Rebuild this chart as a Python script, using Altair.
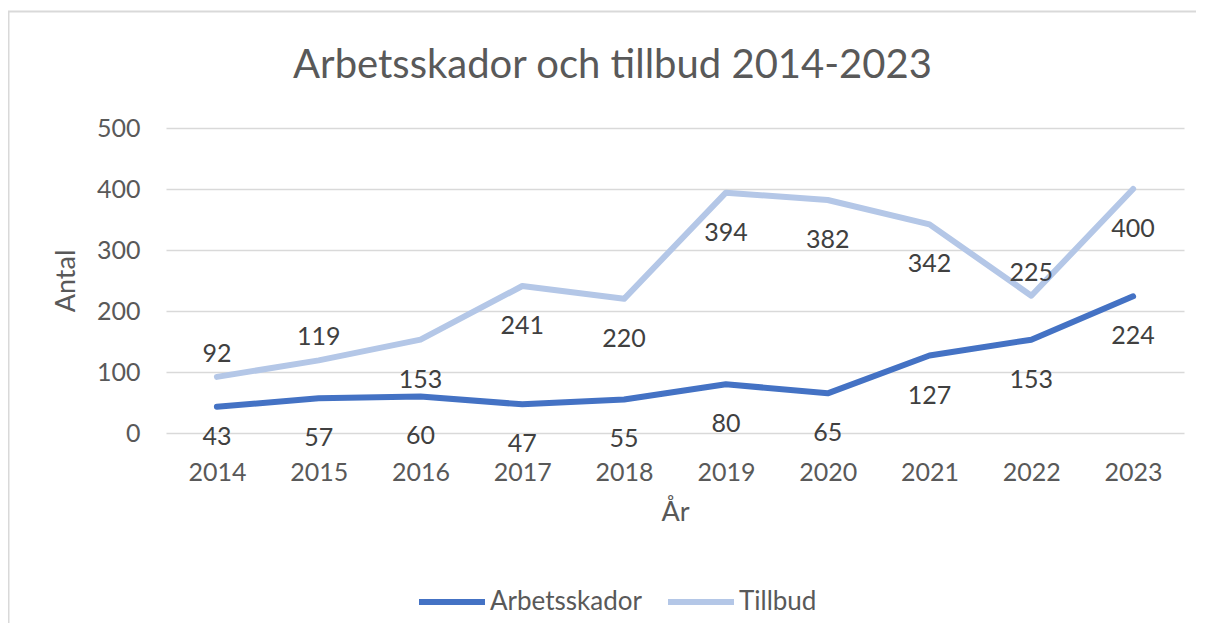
import altair as alt
import pandas as pd
import json

years = ["2014", "2015", "2016", "2017", "2018", "2019", "2020", "2021", "2022", "2023"]
arbetsskador = [43, 57, 60, 47, 55, 80, 65, 127, 153, 224]
tillbud = [92, 119, 153, 241, 220, 394, 382, 342, 225, 400]
series_names = ["Arbetsskador", "Tillbud"]
series_colors = ["#4472C4", "#B4C7E7"]
tillbud_labels_above = ["2014", "2015", "2022"]
arbetsskador_labels_close = ["2014"]
y_ticks = [0, 100, 200, 300, 400, 500]
chart_title = "Arbetsskador och tillbud 2014-2023"

rows = []
for i, y in enumerate(years):
    rows.append({"År": y, "Serie": series_names[0], "Antal": arbetsskador[i]})
    rows.append({"År": y, "Serie": series_names[1], "Antal": tillbud[i]})
df = pd.DataFrame(rows)

FONT = "Lato"
TXT = "#595959"

x_enc = alt.X("År:O", scale=alt.Scale(padding=0.5),
              axis=alt.Axis(labelAngle=0, ticks=False, tickSize=0, domain=False,
                            labelPadding=27, titlePadding=14, grid=False))
y_enc = alt.Y("Antal:Q", scale=alt.Scale(domain=[0, 500], nice=False),
              axis=alt.Axis(values=y_ticks, ticks=False, tickSize=0, domain=False,
                            labelPadding=26, titlePadding=16, grid=True,
                            gridColor="#D9D9D9", gridWidth=1.6))

base = alt.Chart(df)

lines = base.mark_line(strokeWidth=6, strokeCap="round", strokeJoin="round").encode(
    x=x_enc,
    y=y_enc,
    color=alt.Color("Serie:N", scale=alt.Scale(domain=series_names, range=series_colors),
                    legend=alt.Legend(title=None)),
)

above_expr = "datum['Serie'] == 'Tillbud' && indexof(%s, datum['År']) >= 0" % json.dumps(tillbud_labels_above)
close_expr = "datum['Serie'] == 'Arbetsskador' && indexof(%s, datum['År']) >= 0" % json.dumps(arbetsskador_labels_close)

text_style = dict(font=FONT, fontSize=25, color="#404040", baseline="middle")

labels_below = base.mark_text(dy=40, **text_style).encode(
    x="År:O", y="Antal:Q", text="Antal:Q"
).transform_filter("!(" + above_expr + ") && !(" + close_expr + ")")

labels_close = base.mark_text(dy=30, **text_style).encode(
    x="År:O", y="Antal:Q", text="Antal:Q"
).transform_filter(close_expr)

labels_above = base.mark_text(dy=-23, **text_style).encode(
    x="År:O", y="Antal:Q", text="Antal:Q"
).transform_filter(above_expr)

frame = alt.Chart(pd.DataFrame({"f": [1]})).mark_rect(
    fillOpacity=0, stroke="#D9D9D9", strokeWidth=2
).encode(
    x=alt.value(-157.5), x2=alt.value(1080), y=alt.value(-116.5), y2=alt.value(560)
)

title = alt.Chart(pd.DataFrame({"t": [chart_title]})).mark_text(
    font=FONT, fontSize=40, color=TXT, align="center", baseline="alphabetic"
).encode(
    x=alt.value(446.5), y=alt.value(-50), text="t:N"
)

chart = alt.layer(frame, lines, labels_below, labels_close, labels_above, title).properties(
    width=1018, height=305,
    autosize=alt.AutoSizeParams(type="none"),
    padding={"left": 158, "top": 120, "right": 12, "bottom": 190},
    background="white",
).configure_view(stroke=None).configure_axis(
    labelFont=FONT, labelFontSize=25, labelColor=TXT,
    titleFont=FONT, titleFontSize=27, titleColor=TXT, titleFontWeight="normal",
).configure_legend(
    orient="none", legendX=250, legendY=438, direction="horizontal",
    symbolType="stroke", symbolSize=4356, symbolStrokeWidth=6,
    labelFont=FONT, labelFontSize=26, labelColor=TXT, labelOffset=2,
    columnPadding=14,
)

chart.save("out.html", embed_options={"renderer": "svg", "actions": False})
